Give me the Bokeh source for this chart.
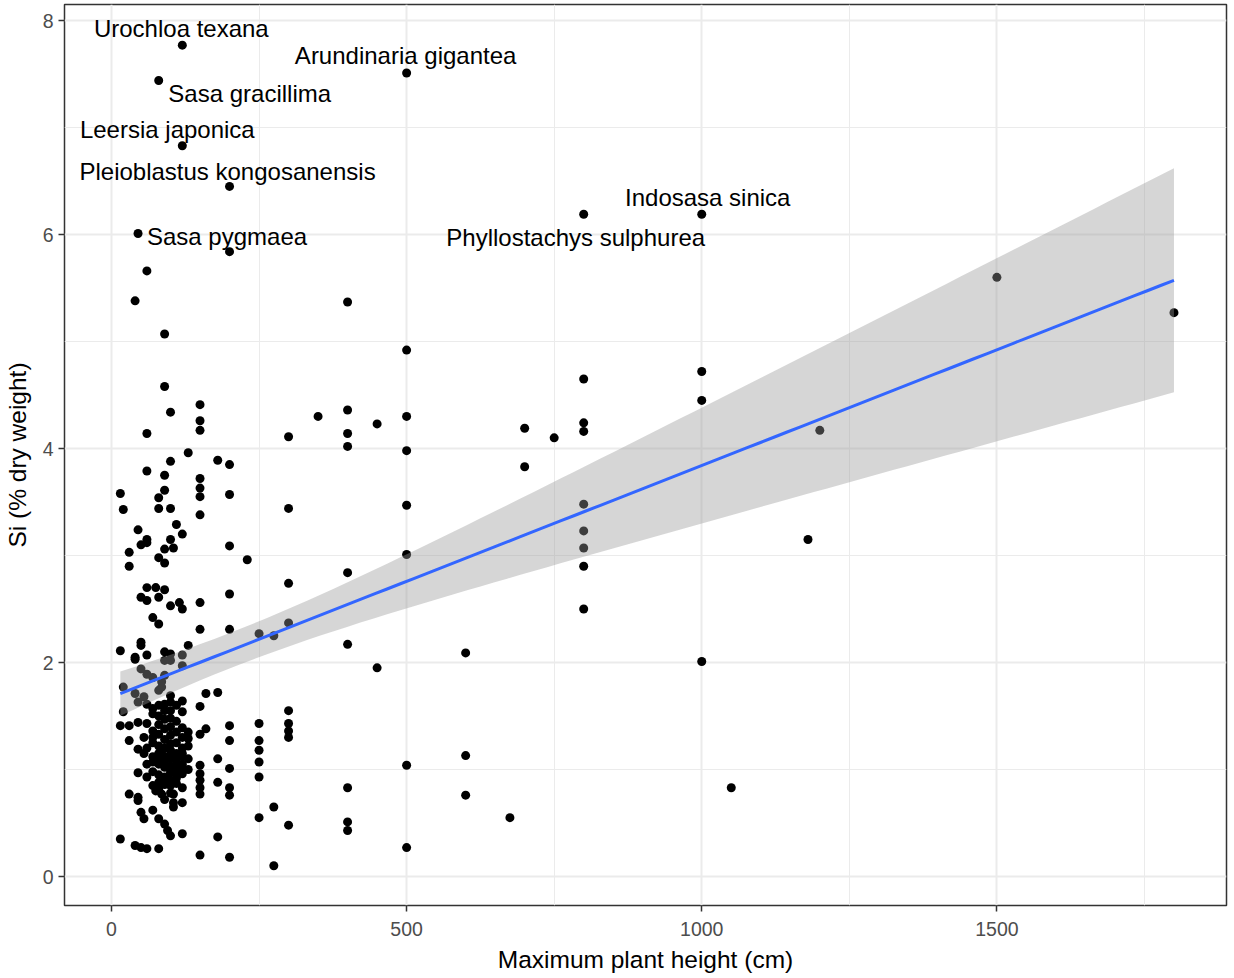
import numpy as np
from bokeh.plotting import figure
from bokeh.models import Range1d, FixedTicker
from bokeh.embed import file_html
from bokeh.resources import INLINE
from bokeh.core.properties import value

# ---- data: maximum plant height (cm) and Si (% dry weight) ----
heights = [15, 20, 30, 40, 45, 50, 55, 60, 70, 75, 80, 85, 90, 95, 100, 105, 110, 115,
           120, 130, 150, 160, 180, 200, 230, 250, 275, 300, 350, 400, 450, 500, 600,
           675, 700, 750, 800, 1000, 1050, 1180, 1200, 1500, 1800]
si_by_height = [
    [3.58, 2.11, 1.41, 0.35],
    [3.43, 1.77, 1.54],
    [3.03, 2.90, 1.41, 1.27, 0.77],
    [5.38, 2.05, 2.03, 1.71, 0.29],
    [6.01, 3.24, 1.63, 1.44, 1.19, 0.97, 0.74, 0.71],
    [3.10, 2.61, 2.19, 2.16, 1.94, 0.60, 0.27],
    [1.68, 1.30, 1.15, 0.54],
    [5.66, 4.14, 3.79, 3.15, 3.12, 2.70, 2.58, 2.07, 1.89, 1.61, 1.43, 1.20, 1.05, 0.93,
     0.26],
    [2.42, 1.86, 1.57, 1.52, 1.36, 1.30, 1.25, 1.12, 1.07, 0.98, 0.85, 0.62],
    [2.70, 0.80],
    [7.44, 3.54, 3.44, 2.98, 2.61, 2.36, 1.74, 1.60, 1.50, 1.42, 1.33, 1.22, 1.15, 1.08,
     1.05, 0.95, 0.88, 0.82, 0.54, 0.26],
    [1.82, 1.77, 1.17, 0.77],
    [5.07, 4.58, 3.75, 3.61, 3.06, 2.93, 2.68, 2.10, 2.02, 1.88, 1.61, 1.55, 1.47, 1.38,
     1.28, 1.20, 1.12, 1.08, 1.02, 0.93, 0.86, 0.72, 0.49],
    [0.43],
    [4.34, 3.88, 3.44, 3.15, 2.53, 2.08, 2.02, 1.69, 1.63, 1.55, 1.48, 1.40, 1.32, 1.24,
     1.18, 1.14, 1.10, 1.03, 1.00, 0.97, 0.90, 0.85, 0.78, 0.38],
    [3.07, 0.77, 0.69, 0.65],
    [3.29, 1.60, 1.45, 1.35, 1.25, 1.15, 1.10, 1.05, 0.98, 0.92, 0.87],
    [2.56],
    [7.77, 6.83, 3.20, 2.50, 2.07, 1.97, 1.64, 1.54, 1.39, 1.30, 1.20, 1.15, 1.12, 1.05,
     1.00, 0.96, 0.83, 0.69, 0.40],
    [3.96, 2.16, 1.35, 1.29, 1.22, 1.10, 1.00],
    [4.41, 4.26, 4.17, 3.72, 3.63, 3.55, 3.38, 2.56, 2.31, 1.59, 1.33, 1.04, 0.96, 0.90,
     0.83, 0.77, 0.20],
    [1.71, 1.38],
    [3.89, 1.72, 1.10, 0.88, 0.37],
    [6.45, 5.84, 3.85, 3.57, 3.09, 2.64, 2.31, 1.41, 1.27, 1.01, 0.83, 0.76, 0.18],
    [2.96],
    [2.27, 1.43, 1.27, 1.18, 1.07, 0.93, 0.55],
    [2.25, 0.65, 0.10],
    [4.11, 3.44, 2.74, 2.37, 1.55, 1.43, 1.36, 1.30, 0.48],
    [4.30],
    [5.37, 4.36, 4.14, 4.02, 2.84, 2.17, 0.83, 0.51, 0.43],
    [4.23, 1.95],
    [7.51, 4.92, 4.30, 3.98, 3.47, 3.01, 1.04, 0.27],
    [2.09, 1.13, 0.76],
    [0.55],
    [4.19, 3.83],
    [4.10],
    [6.19, 4.65, 4.24, 4.16, 3.48, 3.23, 3.07, 2.90, 2.50],
    [6.19, 4.72, 4.45, 2.01],
    [0.83],
    [3.15],
    [4.17],
    [5.60],
    [5.27],
]

# labelled species
label_species = ["Urochloa texana", "Arundinaria gigantea", "Sasa gracillima",
                 "Leersia japonica", "Pleioblastus kongosanensis", "Sasa pygmaea",
                 "Indosasa sinica", "Phyllostachys sulphurea"]
label_height = [120, 500, 80, 120, 200, 45, 1000, 800]
label_si = [7.77, 7.51, 7.44, 6.83, 6.45, 6.01, 6.19, 6.19]
# label placement offsets (screen px, relative to the point)
label_dx = [-1, -1, 91, -15, -2, 89, 6, -8]
label_dy = [-17, -17, 13, -16, -15, 3, -17, 23]

x_ticks = [0, 500, 1000, 1500]
x_minor = [250, 750, 1250, 1750]
y_ticks = [0, 2, 4, 6, 8]
y_minor = [1, 3, 5, 7]

# ---- flatten ----
xs_pts, ys_pts = [], []
for h, vals in zip(heights, si_by_height):
    for v in vals:
        xs_pts.append(h)
        ys_pts.append(v)
xa = np.array(xs_pts, float)
ya = np.array(ys_pts, float)

# ---- linear model with 95% confidence band (as geom_smooth(method="lm")) ----
n = len(xa)
X = np.column_stack([np.ones(n), xa])
beta, *_ = np.linalg.lstsq(X, ya, rcond=None)
resid = ya - X @ beta
s2 = resid @ resid / (n - 2)
xm = xa.mean()
sxx = ((xa - xm) ** 2).sum()
xg = np.linspace(xa.min(), xa.max(), 80)
fit = beta[0] + beta[1] * xg
se = np.sqrt(s2 * (1.0 / n + (xg - xm) ** 2 / sxx))
T95 = 1.968

FONT = "Liberation Sans"

p = figure(width=1234, height=978, output_backend="svg", toolbar_location=None,
           x_range=Range1d(-79.6, 1889), y_range=Range1d(-0.271, 8.15),
           min_border_left=63, min_border_right=8, min_border_top=4, min_border_bottom=73,
           background_fill_color="white", border_fill_color="white")

p.outline_line_color = "#333333"
p.outline_line_width = 1.5

xt = FixedTicker(ticks=x_ticks, minor_ticks=x_minor)
yt = FixedTicker(ticks=y_ticks, minor_ticks=y_minor)
p.xaxis.ticker = xt
p.yaxis.ticker = yt
p.xgrid.ticker = xt
p.ygrid.ticker = yt
for g in (p.xgrid, p.ygrid):
    g.grid_line_color = "#EBEBEB"
    g.grid_line_width = 2
    g.minor_grid_line_color = "#EBEBEB"
    g.minor_grid_line_width = 1

for ax in (p.xaxis, p.yaxis):
    ax.axis_line_color = None
    ax.major_tick_line_color = "#333333"
    ax.major_tick_line_width = 1.5
    ax.major_tick_out = 6
    ax.major_tick_in = 0
    ax.minor_tick_line_color = None
    ax.major_label_text_font = FONT
    ax.major_label_text_font_size = "19.5px"
    ax.major_label_text_color = "#4D4D4D"
    ax.axis_label_text_font = FONT
    ax.axis_label_text_font_size = "24.5px"
    ax.axis_label_text_font_style = "normal"
    ax.axis_label_text_color = "black"

p.xaxis.axis_label = "Maximum plant height (cm)"
p.yaxis.axis_label = "Si (% dry weight)"
p.xaxis.major_label_standoff = 10
p.xaxis.axis_label_standoff = 7
p.yaxis.major_label_standoff = 5
p.yaxis.axis_label_standoff = 9

# points
p.scatter(xa, ya, size=9, color="black", line_color=None)

# smooth
p.varea(x=xg, y1=fit - T95 * se, y2=fit + T95 * se, fill_color="#999999", fill_alpha=0.4)
p.line(xg, fit, line_color="#3366FF", line_width=3)

# labels
p.text(x=label_height, y=label_si, text=label_species,
       x_offset=label_dx, y_offset=label_dy,
       text_font=value(FONT), text_font_size="24px", text_color="black",
       text_align="center", text_baseline="middle")

open("out.html", "w").write(file_html(p, INLINE))
